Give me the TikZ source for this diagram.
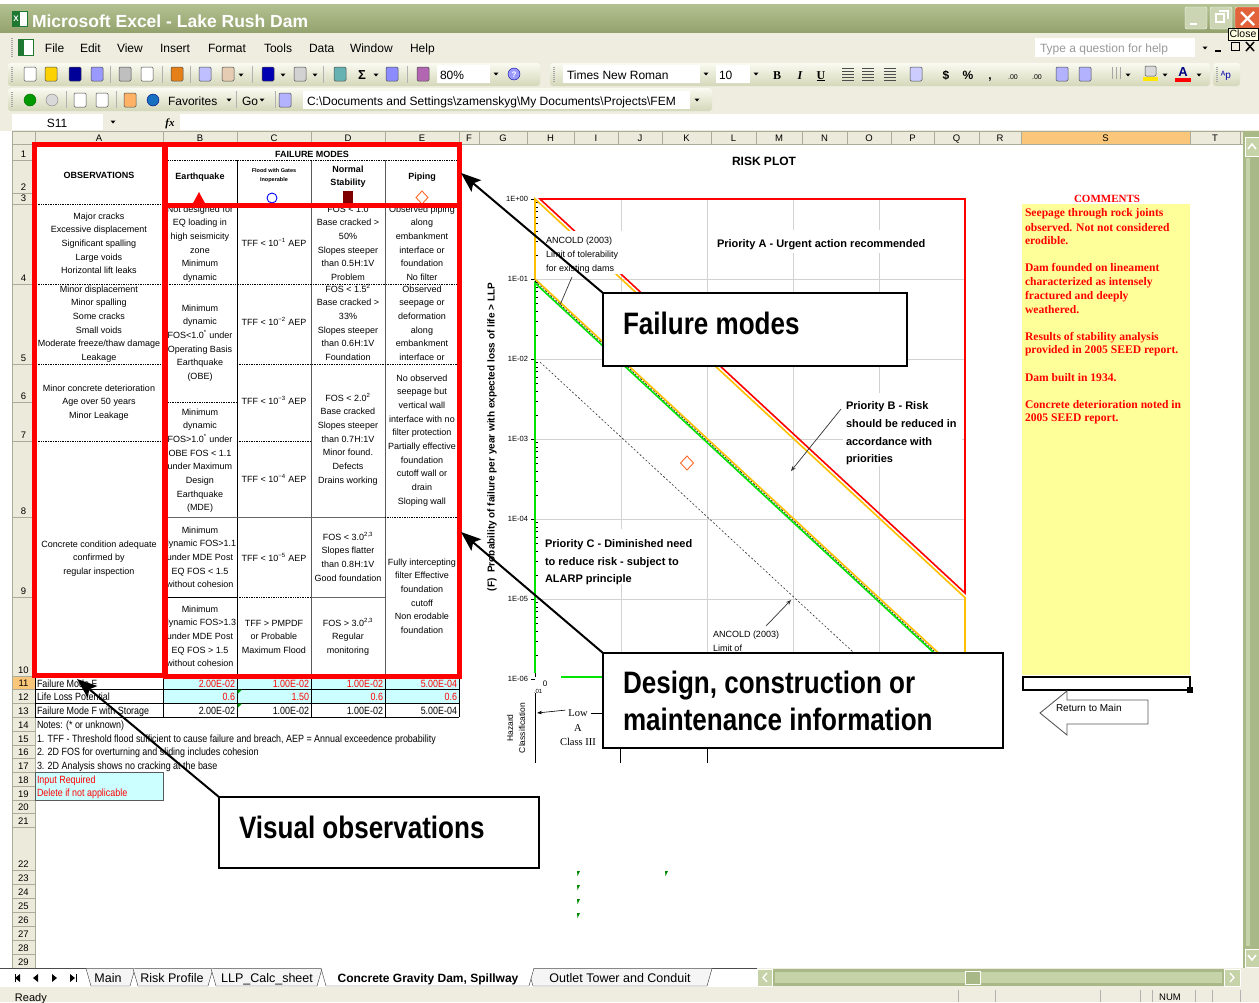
\documentclass[tikz,border=0pt]{standalone}
\usepackage{fontspec}
\setmainfont{Liberation Sans}
\newfontfamily\srf{Liberation Serif}
\newfontfamily\nrw[FakeStretch=0.85]{Liberation Sans}
\newfontfamily\clt[FakeStretch=0.84]{Liberation Sans}
\usetikzlibrary{arrows.meta}
\newcommand\fsz[1]{\fontsize{#1}{#1}\selectfont}
\newcommand\ddn[2]{\fill[black] ({#1-2.5},{#2-1.5}) -- ({#1+2.5},{#2-1.5}) -- ({#1},{#2+1.5}) -- cycle;}
\newcommand\cellL[4]{\foreach \t [count=\i] in {#4}{\node[tbl] (#3-\i) at (#1,{#2+(\i-1)*13.7}) {\t};}}
\definecolor{ttlA}{RGB}{180,193,146}
\definecolor{ttlB}{RGB}{146,162,108}
\definecolor{barbg}{RGB}{238,237,223}
\definecolor{tbA}{RGB}{250,250,242}
\definecolor{tbB}{RGB}{212,216,184}
\definecolor{hdr}{RGB}{236,234,218}
\definecolor{hdrline}{RGB}{172,170,152}
\definecolor{hdrsel}{RGB}{250,198,122}
\definecolor{cyanc}{RGB}{204,255,255}
\definecolor{yell}{RGB}{255,255,153}
\definecolor{xred}{RGB}{255,0,0}
\definecolor{xorange}{RGB}{255,192,0}
\definecolor{xgreen}{RGB}{0,228,0}
\definecolor{gridg}{RGB}{210,210,210}
\definecolor{scrl}{RGB}{168,184,134}
\definecolor{scrlL}{RGB}{198,210,168}
\definecolor{ttip}{RGB}{255,255,225}
\definecolor{dred}{RGB}{128,0,0}
\definecolor{dorange}{RGB}{255,105,40}
\definecolor{closec}{RGB}{226,98,58}
\definecolor{xlgreen}{RGB}{30,120,50}
\tikzset{
  every node/.style={inner sep=0pt,outer sep=0pt},
  tbl/.style={anchor=base,font=\fsz{9}},
  tblh/.style={anchor=base,font=\bfseries\fsz{9}},
  redbox/.style={draw=xred,line width=5pt},
  dotl/.style={line width=0.7pt,dash pattern=on 0.8pt off 0.9pt},
  celll/.style={line width=0.8pt},
  rowtxt/.style={anchor=base west,font=\nrw\fsz{10.5}},
  rowval/.style={anchor=base east,font=\nrw\fsz{10.5}},
  rownum/.style={anchor=base,font=\fsz{9.5}},
  colhd/.style={anchor=base,font=\fsz{9.5}},
  menuitem/.style={anchor=base west,font=\fsz{12}},
  tbtxt/.style={anchor=base west,font=\fsz{12}},
  prio/.style={anchor=base west,font=\bfseries\fsz{11}},
  smalllbl/.style={anchor=base west,font=\fsz{9}},
  ticklbl/.style={anchor=east,font=\fsz{7.5}},
  cbox/.style={draw=black,line width=2.6pt,fill=white,anchor=north west},
  cboxtxt/.style={anchor=base west,font=\clt\bfseries\fsz{31}},
  carrow/.style={line width=2pt,-{Stealth[length=20pt,width=15pt,inset=4pt]}},
  leader/.style={black!80,line width=0.7pt},
  leaderarr/.style={black!80,line width=0.7pt,-{Stealth[length=5pt,width=4pt]}},
  commenttxt/.style={anchor=base west,font=\srf\bfseries\fsz{11.6},text=xred},
  ico/.style={draw=gray!60!black,line width=0.5pt,rounded corners=1.2pt},
  sheettab/.style={anchor=base,font=\fsz{12.5}},
  plotline/.style={line width=1.6pt},
}
\begin{document}
\begin{tikzpicture}[x=1pt,y=-1pt]
\useasboundingbox (0,0) rectangle (1259,1002);
\fill[white] (0,0) rectangle (1259,1002);

% ---------------- title bar
\shade[top color=ttlA,bottom color=ttlB] (0,4) rectangle (1259,33);
\filldraw[fill=white,draw=xlgreen] (12,11) rectangle (27,26);
\fill[xlgreen] (12,11) rectangle (20,26);
\node[font=\bfseries\fsz{8},text=white] (xicon) at (16,18.5) {X};
\node[anchor=base west,font=\bfseries\fsz{17.5},text=white] (title) at (32,27.5) {Microsoft Excel - Lake Rush Dam};
\filldraw[fill=ttlA!70!white,draw=white,rounded corners=2] (1185,7) rectangle (1207,29);
\draw[white,line width=2] (1190,24) -- (1197,24);
\filldraw[fill=ttlA!70!white,draw=white,rounded corners=2] (1210,7) rectangle (1232,29);
\draw[white,line width=1.2] (1216,14) rectangle (1224,22);
\draw[white,line width=1.2] (1219,11) -- (1228,11) -- (1228,19);
\filldraw[fill=closec,draw=white,rounded corners=2] (1235,7) rectangle (1262,29);
\draw[white,line width=2.2] (1241,12) -- (1254,25) (1254,12) -- (1241,25);

% ---------------- menu bar
\fill[barbg] (0,33) rectangle (1259,62);
\draw[gray!70,line width=1.2,dash pattern=on 1pt off 1pt] (12,38) -- (12,57);
\filldraw[fill=white,draw=xlgreen] (18,39) rectangle (33,55);
\fill[xlgreen] (18,39) rectangle (24,55);
\node[menuitem] (mfile) at (45,52) {File};
\node[menuitem] (medit) at (80,52) {Edit};
\node[menuitem] (mview) at (117,52) {View};
\node[menuitem] (mins) at (160,52) {Insert};
\node[menuitem] (mfmt) at (208,52) {Format};
\node[menuitem] (mtools) at (264,52) {Tools};
\node[menuitem] (mdata) at (309,52) {Data};
\node[menuitem] (mwin) at (350,52) {Window};
\node[menuitem] (mhelp) at (410,52) {Help};
\fill[white] (1035,38) rectangle (1195,57);
\node[anchor=base west,font=\fsz{12},text=gray!80] (qhelp) at (1040,52) {Type a question for help};
\ddn{1205}{48}
\draw[line width=1.5] (1215,51) -- (1221,51);
\draw[line width=1] (1231,42) rectangle (1239,50);
\draw[line width=1.5] (1246,42) -- (1254,51) (1254,42) -- (1246,51);
\node[draw=black,fill=ttip,anchor=north west,font=\fsz{10.5},inner xsep=1.5,inner ysep=2] (tip) at (1228,28) {Close};

% ---------------- toolbar 1
\fill[barbg] (0,62) rectangle (1259,112);
\shade[top color=tbA,bottom color=tbB,rounded corners=3] (8,63) rectangle (540,86);
\shade[top color=tbA,bottom color=tbB,rounded corners=3] (550,63) rectangle (1210,86);
\shade[top color=tbA,bottom color=tbB,rounded corners=3] (1213,63) rectangle (1240,86);
\foreach \gx in {12,554,1217} \draw[gray!70,line width=1.2,dash pattern=on 1pt off 1pt] (\gx,67) -- (\gx,82);
\foreach \x/\c in {30/white,51/yellow!70!orange,75/blue!60!black,97/blue!40,125/gray!50,147/white,177/orange!60!brown,205/blue!25,228/brown!40,268/blue!70!black,300/gray!35,340/teal!60,392/blue!45,423/violet!60}
  \filldraw[ico,fill=\c] ({\x-6},67) rectangle ({\x+6},81);
\foreach \x in {110,162,190,252,323,407} \draw[gray!60] (\x,66) -- (\x,83);
\foreach \x in {241,283,315,376} {\ddn{\x}{75}}
\node[anchor=base,font=\bfseries\fsz{13}] (sigma) at (362,79) {Σ};
\fill[white] (437,65) rectangle (490,83);
\node[tbtxt] (zoomt) at (440,79) {80\%};
\ddn{496}{74}
\filldraw[draw=blue!60!black,fill=blue!40!white] (514,74) circle (6pt);
\node[font=\bfseries\fsz{8},text=white] (qm) at (514,74.5) {?};
\fill[white] (563,65) rectangle (700,83);
\node[tbtxt] (fontn) at (567,79) {Times New Roman};
\ddn{706}{74}
\fill[white] (716,65) rectangle (750,83);
\node[tbtxt] (fsize) at (719,79) {10};
\ddn{756}{74}
\node[anchor=base,font=\srf\bfseries\fsz{12}] (tbB) at (777,79) {B};
\node[anchor=base,font=\srf\bfseries\itshape\fsz{12}] (tbI) at (800,79) {I};
\node[anchor=base,font=\srf\bfseries\fsz{12}] (tbU) at (821,79) {\underline{U}};
\foreach \x in {848,868,890} {\foreach \yy in {68,71,74,77,80} \draw[black!70] ({\x-6},\yy) -- ({\x+6},\yy);}
\filldraw[ico,fill=blue!20] (910,67) rectangle (922,81);
\node[anchor=base,font=\bfseries\fsz{12}] (tbdol) at (946,79) {\$};
\node[anchor=base,font=\bfseries\fsz{12}] (tbpct) at (968,79) {\%};
\node[anchor=base,font=\bfseries\fsz{12}] (tbcom) at (990,79) {,};
\node[anchor=base,font=\fsz{7}] (tbinc) at (1013,79) {.00};
\node[anchor=base,font=\fsz{7}] (tbdec) at (1037,79) {.00};
\filldraw[ico,fill=blue!30] (1056,67) rectangle (1068,81);
\filldraw[ico,fill=blue!30] (1079,67) rectangle (1091,81);
\draw[gray!70] (1109,67) grid[step=4] (1121,79);
\ddn{1128}{75}
\fill[yellow!90!orange] (1143,77) rectangle (1158,81);
\filldraw[ico,fill=gray!30] (1145,66) rectangle (1156,76);
\ddn{1165}{75}
\node[anchor=base,font=\bfseries\fsz{13},text=blue!50!black] (tbA) at (1183,76) {A};
\fill[xred] (1175,78) rectangle (1191,82);
\ddn{1199}{75}
\node[anchor=base,font=\fsz{10},text=blue!70!black] (tbAp) at (1226,78) {ᴬp};

% ---------------- toolbar 2
\shade[top color=tbA,bottom color=tbB,rounded corners=3] (8,88) rectangle (712,111);
\draw[gray!70,line width=1.2,dash pattern=on 1pt off 1pt] (12,92) -- (12,107);
\filldraw[draw=green!40!black,fill=green!60!black] (30,100) circle (6pt);
\filldraw[draw=gray,fill=gray!30] (52,100) circle (6pt);
\foreach \x in {66,116,275} \draw[gray!60] (\x,91) -- (\x,108);
\filldraw[ico,fill=white] (74,93) rectangle (86,107);
\filldraw[ico,fill=white] (96,93) rectangle (108,107);
\filldraw[ico,fill=orange!60] (124,93) rectangle (136,107);
\filldraw[draw=blue!50!black,fill=cyan!50!blue] (153,100) circle (6pt);
\node[tbtxt] (fav) at (168,105) {Favorites};
\ddn{229}{100}
\draw[gray!60] (236,91) -- (236,108);
\node[tbtxt] (go) at (242,105) {Go};
\ddn{262}{100}
\filldraw[ico,fill=blue!30] (279,93) rectangle (291,107);
\fill[white] (303,91) rectangle (690,109);
\begin{scope}
\clip (303,91) rectangle (690,109);
\node[tbtxt] (path) at (307,105) {C:\textbackslash Documents and Settings\textbackslash zamenskyg\textbackslash My Documents\textbackslash Projects\textbackslash FEM};
\end{scope}
\ddn{697}{100}

% ---------------- formula bar
\fill[barbg] (0,112) rectangle (1259,131);
\fill[white] (12,114) rectangle (103,130);
\node[anchor=base,font=\fsz{12}] (namebox) at (57,127) {S11};
\ddn{113}{122}
\node[anchor=base,font=\srf\bfseries\itshape\fsz{11}] (fx) at (170,126) {fx};
\fill[white] (180,114) rectangle (1259,130);

% ---------------- column / row headers
\fill[hdr] (12,131) rectangle (1243,144);
\fill[hdrsel] (1021,131) rectangle (1190,144);
\fill[hdr] (12,144) rectangle (35,968);
\fill[hdrsel] (12,676) rectangle (35,689);
\draw[hdrline] (12,131) -- (1243,131);
\draw[hdrline] (12,144) -- (1243,144);
\draw[hdrline] (35,131) -- (35,968);
\draw[hdrline] (12,131) -- (12,968);
\foreach \l/\a/\b in {A/35/163,B/163/237,C/237/311,D/311/385,E/385/459,F/459/479,G/479/527,H/527/574,I/574/618,J/618/662,K/662/711,L/711/756,M/756/802,N/802/847,O/847/891,P/891/934,Q/934/979,R/979/1021,S/1021/1190,T/1190/1240}
{\draw[hdrline] (\b,131) -- (\b,144); \node[colhd] (col\l) at ({(\a+\b)/2},141.5) {\l};}
\foreach \n/\b in {1/160,2/193,3/204,4/284,5/364,6/402,7/441,8/517,9/597,10/676,11/689,12/703,13/717,14/731,15/745,16/758,17/772,18/786,19/800,20/813,21/827,22/870,23/884,24/898,25/912,26/926,27/940,28/954,29/968}
{\draw[hdrline] (12,\b) -- (35,\b); \node[rownum] (row\n) at (23.5,{\b-3}) {\n};}

% ---------------- table body
\fill[cyanc] (163,676) rectangle (459,703);
\fill[cyanc] (35,772) rectangle (163,800);
\draw[gray!70!black,line width=0.8] (35,772) rectangle (163,800);
\foreach \y in {689,703,717} \draw[celll] (35,\y) -- (459,\y);
\foreach \x in {35,163,237,311,385,459} \draw[celll] (\x,676) -- (\x,717);
\draw[celll] (237,160) -- (237,676);
\draw[celll,black!65] (311,160) -- (311,676);
\draw[celll,black!65] (385,160) -- (385,676);
\draw[dotl] (165,160) -- (459,160);
\draw[dotl] (36,204) -- (163,204);
\draw[dotl] (36,284) -- (459,284);
\draw[dotl] (36,364) -- (163,364);
\draw[dotl] (237,364) -- (459,364);
\draw[dotl] (163,402) -- (237,402);
\draw[dotl] (36,441) -- (163,441);
\draw[dotl] (237,441) -- (311,441);
\draw[celll,black!60] (163,517) -- (385,517);
\draw[dotl] (385,517) -- (459,517);
\draw[celll] (163,597) -- (237,597);
\draw[dotl] (237,597) -- (311,597);
\draw[celll,black!60] (311,597) -- (385,597);
\fill[green!60!black] (237.5,689.5) -- (242,689.5) -- (237.5,694) -- cycle;
\fill[green!60!black] (237.5,703.5) -- (242,703.5) -- (237.5,708) -- cycle;

% headers
\node[tblh] (fmodes) at (312,157) {FAILURE MODES};
\node[tblh] (obs) at (99,178) {OBSERVATIONS};
\node[tblh] (eq) at (200,179.5) {Earthquake};
\node[anchor=base,font=\bfseries\fsz{5.5}] (fl1) at (274,172) {Flood with Gates};
\node[anchor=base,font=\bfseries\fsz{5.5}] (fl2) at (274,181) {Inoperable};
\node[tblh] (ns1) at (348,172) {Normal};
\node[tblh] (ns2) at (348,185) {Stability};
\node[tblh] (pip) at (422,179.5) {Piping};
\fill[xred] (199,192) -- (206,205) -- (192,205) -- cycle;
\draw[blue,line width=0.9] (272,198) circle (5pt);
\fill[dred] (343,191) rectangle (353,205);
\draw[dorange,line width=0.9] (422,191) -- (428,197.5) -- (422,204) -- (416,197.5) -- cycle;

% column A
\cellL{99}{219}{a4}{{Major cracks},{Excessive displacement},{Significant spalling},{Large voids},{Horizontal lift leaks}}
\cellL{99}{292}{a5}{{Minor displacement},{Minor spalling},{Some cracks},{Small voids},{Moderate freeze/thaw damage},{Leakage}}
\cellL{99}{391}{a6}{{Minor concrete deterioration},{Age over 50 years},{Minor Leakage}}
\cellL{99}{547}{a8}{{Concrete condition adequate},{confirmed by},{regular inspection}}
% column B
\begin{scope}
\clip (166,206) rectangle (236.5,283.6);
\cellL{200}{212}{b4}{{Not designed for},{EQ loading in},{high seismicity},{zone},{Minimum},{dynamic}}
\end{scope}
\begin{scope}
\clip (166,284) rectangle (236.5,676);
\cellL{200}{311}{b5}{{Minimum},{dynamic},{FOS<1.0\textsuperscript{*} under},{Operating Basis},{Earthquake},{(OBE)}}
\cellL{200}{415}{b7}{{Minimum},{dynamic},{FOS>1.0\textsuperscript{*} under},{OBE FOS < 1.1},{under Maximum},{Design},{Earthquake},{(MDE)}}
\cellL{200}{533}{b9}{{Minimum},{dynamic FOS>1.1},{under MDE Post},{EQ FOS < 1.5},{without cohesion}}
\cellL{200}{612}{b10}{{Minimum},{dynamic FOS>1.3},{under MDE Post},{EQ FOS > 1.5},{without cohesion}}
\end{scope}
% column C
\node[tbl] (c4) at (274,246) {TFF < 10\textsuperscript{−1} AEP};
\node[tbl] (c5) at (274,325) {TFF < 10\textsuperscript{−2} AEP};
\node[tbl] (c6) at (274,404) {TFF < 10\textsuperscript{−3} AEP};
\node[tbl] (c8) at (274,482) {TFF < 10\textsuperscript{−4} AEP};
\node[tbl] (c9) at (274,561) {TFF < 10\textsuperscript{−5} AEP};
\cellL{274}{626}{c10}{{TFF > PMPDF},{or Probable},{Maximum Flood}}
% column D
\begin{scope}
\clip (311.5,206) rectangle (384.5,283.6);
\cellL{348}{212}{d4}{{FOS < 1.0},{Base cracked >},{50\%},{Slopes steeper},{than 0.5H:1V},{Problem}}
\end{scope}
\cellL{348}{292}{d5}{{FOS < 1.5\textsuperscript{2}},{Base cracked >},{33\%},{Slopes steeper},{than 0.6H:1V},{Foundation}}
\cellL{348}{401}{d6}{{FOS < 2.0\textsuperscript{2}},{Base cracked},{Slopes steeper},{than 0.7H:1V},{Minor found.},{Defects},{Drains working}}
\cellL{348}{540}{d9}{{FOS < 3.0\textsuperscript{2,3}},{Slopes flatter},{than 0.8H:1V},{Good foundation}}
\cellL{348}{626}{d10}{{FOS > 3.0\textsuperscript{2,3}},{Regular},{monitoring}}
% column E
\begin{scope}
\clip (385.5,206) rectangle (457,283.6);
\cellL{422}{212}{e4}{{Observed piping},{along},{embankment},{interface or},{foundation},{No filter}}
\end{scope}
\cellL{422}{292}{e5}{{Observed},{seepage or},{deformation},{along},{embankment},{interface or}}
\cellL{422}{381}{e6}{{No observed},{seepage but},{vertical wall},{interface with no},{filter protection},{Partially effective},{foundation},{cutoff wall or},{drain},{Sloping wall}}
\cellL{422}{565}{e9}{{Fully intercepting},{filter Effective},{foundation},{cutoff},{Non erodable},{foundation}}

% rows 11-19
\node[rowtxt] (r11a) at (37,687) {Failure Mode F};
\node[rowtxt] (r12a) at (37,700.5) {Life Loss Potential};
\node[rowtxt] (r13a) at (37,714) {Failure Mode F with Storage};
\foreach \x/\v [count=\i] in {235/2.00E-02,309/1.00E-02,383/1.00E-02,457/5.00E-04}
  \node[rowval,text=xred] (r11v\i) at (\x,687) {\v};
\foreach \x/\v [count=\i] in {235/0.6,309/1.50,383/0.6,457/0.6}
  \node[rowval,text=xred] (r12v\i) at (\x,700.5) {\v};
\foreach \x/\v [count=\i] in {235/2.00E-02,309/1.00E-02,383/1.00E-02,457/5.00E-04}
  \node[rowval] (r13v\i) at (\x,714) {\v};
\node[rowtxt] (r14) at (37,728) {Notes: (* or unknown)};
\node[rowtxt] (r15) at (37,742) {1. TFF - Threshold flood sufficient to cause failure and breach, AEP = Annual exceedence probability};
\node[rowtxt] (r16) at (37,755.5) {2. 2D FOS for overturning and sliding includes cohesion};
\node[rowtxt] (r17) at (37,769) {3. 2D Analysis shows no cracking at the base};
\node[rowtxt,text=xred] (r18) at (37,783) {Input Required};
\node[rowtxt,text=xred] (r19) at (37,796.5) {Delete if not applicable};

% red outline boxes
\draw[redbox] (34.5,144) rectangle (164,675.5);
\draw[redbox] (165.5,144) rectangle (459.5,205.5);
\draw[redbox] (165.5,205.5) rectangle (459.5,676);

% ---------------- risk plot
\node[anchor=base,font=\bfseries\fsz{12}] (riskplot) at (764,165) {RISK PLOT};
\foreach \x in {621,707,793,879} \draw[gridg,line width=0.9] (\x,199) -- (\x,677);
\foreach \y in {279,359,439,519,599} \draw[gridg,line width=0.9] (535,\y) -- (965,\y);
\draw[black,line width=0.6] (535,199) -- (535,677);
\foreach \y in {199,279,359,439,519,599,679} \draw[line width=0.6] (531,\y) -- (535,\y);
\foreach \d in {0,...,5} {\foreach \k in {2,...,9} {\draw[line width=0.5] (535,{199+80*(\d+1)-80*log10(\k)}) -- (538,{199+80*(\d+1)-80*log10(\k)});}}
\foreach \y/\t [count=\i] in {199/1E+00,279/1E-01,359/1E-02,439/1E-03,519/1E-04,599/1E-05,679/1E-06}
  \node[ticklbl] (yt\i) at (528,\y) {\t};
\draw[xorange,plotline] (535,279) -- (535,199) -- (965,597.6) -- (965,677);
\draw[xred,plotline] (965,593) -- (540,199) -- (965,199) -- cycle;
\draw[xorange,plotline] (535,279) -- (965,677.6);
\draw[xgreen,plotline] (535,673) -- (535,283) -- (960,677);
\draw[xgreen,plotline] (561,677) -- (612,677);
\draw[black,line width=0.5,dash pattern=on 2pt off 1.5pt] (535,281) -- (962,677);
\draw[black!80,line width=0.6,dash pattern=on 2pt off 2pt] (540,362) -- (880,677);
\node[rotate=90,font=\bfseries\fsz{10}] (ylab) at (492,437) {(F)\ \ Probability of failure per year with expected loss of life > LLP};
\node[anchor=base,font=\fsz{8}] (x0) at (545,686) {0};
\node[anchor=base,font=\fsz{6}] (x01) at (538,693) {.01};
% labels with white ground
\fill[white] (543,231) rectangle (623,274);
\node[smalllbl] (anc1a) at (546,243) {ANCOLD (2003)};
\node[smalllbl] (anc1b) at (546,257) {Limit of tolerability};
\node[smalllbl] (anc1c) at (546,271) {for existing dams};
\fill[white] (712,230) rectangle (926,253);
\node[prio] (pa) at (717,247) {Priority A - Urgent action recommended};
\fill[white] (843,393) rectangle (962,466);
\node[prio] (pb1) at (846,409) {Priority B - Risk};
\node[prio] (pb2) at (846,427) {should be reduced in};
\node[prio] (pb3) at (846,445) {accordance with};
\node[prio] (pb4) at (846,462) {priorities};
\fill[white] (542,529) rectangle (702,584);
\node[prio] (pc1) at (545,547) {Priority C - Diminished need};
\node[prio] (pc2) at (545,565) {to reduce risk - subject to};
\node[prio] (pc3) at (545,582) {ALARP principle};
\fill[white] (710,623) rectangle (790,651);
\node[smalllbl] (anc2a) at (713,637) {ANCOLD (2003)};
\node[smalllbl] (anc2b) at (713,651) {Limit of};
\coordinate (l1a) at (572,277); \coordinate (l1b) at (560,305);
\draw[leader] (l1a) -- (l1b);
\coordinate (l2a) at (841,409); \coordinate (l2b) at (791,471);
\draw[leaderarr] (l2a) -- (l2b);
\coordinate (l3a) at (766,626); \coordinate (l3b) at (791,600);
\draw[leaderarr] (l3a) -- (l3b);
\draw[dorange,line width=0.9] (687,456) -- (693.5,463) -- (687,470) -- (680.5,463) -- cycle;
% hazard classification
\draw[line width=0.7] (535,693) -- (535,763);
\draw[line width=0.7] (620,693) -- (620,763);
\draw[line width=0.7] (707,693) -- (707,763);
\node[rotate=90,font=\fsz{8.5}] (haz1) at (510,728) {Hazard};
\node[rotate=90,font=\fsz{8.5}] (haz2) at (522,728) {Classification};
\node[anchor=base,font=\srf\fsz{10.5}] (low) at (578,716.5) {Low};
\node[anchor=base,font=\srf\fsz{10.5}] (lowA) at (578,731) {A};
\node[anchor=base,font=\srf\fsz{10.5}] (lowC) at (578,745) {Class III};
\draw[line width=0.6,-{Stealth[length=5pt,width=3.5pt]}] (low.west) ++(-3,-3) -- (537,713);
\draw[line width=0.6] (591,713) -- (612,713);

% ---------------- comments
\node[anchor=base,font=\srf\bfseries\fsz{11},text=xred] (comh) at (1107,202) {COMMENTS};
\fill[yell] (1022,204) rectangle (1190,675);
\foreach \y/\t [count=\i] in {216/{Seepage through rock joints},231/{observed. Not not considered},244/{erodible.},271/{Dam founded on lineament},285/{characterized as intensely},299/{fractured and deeply},313/{weathered.},340/{Results of stability analysis},353/{provided in 2005 SEED report.},381/{Dam built in 1934.},408/{Concrete deterioration noted in},421/{2005 SEED report.}}
  \node[commenttxt] (com\i) at (1025,\y) {\t};
\draw[line width=2.2] (1023,677) rectangle (1190,690);
\fill (1187,687) rectangle (1193,693);
\draw[gray!70!black,line width=0.9,fill=white] (1040,713) -- (1067,691) -- (1067,700) -- (1148,700) -- (1148,724) -- (1067,724) -- (1067,735) -- cycle;
\node[anchor=base west,font=\fsz{10}] (ret) at (1056,711.5) {Return to Main};

% small green marks
\foreach \x/\y in {577/871,665/871,577/885,577/899,577/913}
  \fill[green!55!black] (\x,\y) -- ({\x+3},\y) -- ({\x+0.5},{\y+5}) -- cycle;

% ---------------- callouts
\node[cbox,minimum width=304,minimum height=73] (fm) at (603,293) {};
\node[cboxtxt] (fmt) at (623,334) {Failure modes};
\coordinate (fmtip) at (461,173);
\draw[carrow] (fm.north west) -- (fmtip);
\node[cbox,minimum width=400,minimum height=95] (dc) at (603,653) {};
\node[cboxtxt] (dct1) at (623,693) {Design, construction or};
\node[cboxtxt] (dct2) at (623,730) {maintenance information};
\coordinate (dctip) at (461,532);
\draw[carrow] (dc.north west) -- (dctip);
\node[cbox,minimum width=320,minimum height=71] (vo) at (219,797) {};
\node[cboxtxt] (vot) at (239,838) {Visual observations};
\coordinate (votip) at (77,679);
\draw[carrow] (vo.north west) -- (votip);

% ---------------- vertical scrollbar
\fill[scrl] (1243,131) rectangle (1259,968);
\fill[scrlL] (1246,158) rectangle (1250,946);
\filldraw[fill=scrlL,draw=white] (1245,137) rectangle (1259,156);
\draw[white,line width=1.5] (1248,149) -- (1252,144) -- (1256,149);
\filldraw[fill=scrlL,draw=white] (1245,949) rectangle (1259,967);
\draw[white,line width=1.5] (1248,955) -- (1252,960) -- (1256,955);

% ---------------- sheet tabs
\fill[barbg] (0,968) rectangle (1259,1002);
\fill[white] (0,968) rectangle (757,987);
\draw[black!70] (0,968.5) -- (757,968.5);
\foreach \x in {20,38} \fill (\x,974) -- (\x,982) -- ({\x-5},978) -- cycle;
\foreach \x in {52,70} \fill (\x,974) -- (\x,982) -- ({\x+5},978) -- cycle;
\draw[line width=1] (15,974) -- (15,982);
\draw[line width=1] (76,974) -- (76,982);
\draw[black!80,fill=gray!8] (86,968.5) -- (91,986) -- (130,986) -- (135,968.5);
\draw[black!80,fill=gray!8] (133,968.5) -- (138,986) -- (208,986) -- (213,968.5);
\draw[black!80,fill=gray!8] (211,968.5) -- (216,986) -- (317,986) -- (322,968.5);
\draw[black!80,fill=gray!8] (528,968.5) -- (533,986) -- (707,986) -- (712,968.5);
\draw[black!80,fill=white] (321,968) -- (326,986) -- (529,986) -- (534,968);
\node[sheettab] (tab1) at (108,982) {Main};
\node[sheettab] (tab2) at (172,982) {Risk Profile};
\node[sheettab] (tab3) at (267,982) {LLP\_Calc\_sheet};
\node[sheettab,font=\bfseries\fsz{12}] (tab4) at (428,982) {Concrete Gravity Dam, Spillway};
\node[sheettab] (tab5) at (620,982) {Outlet Tower and Conduit};
\fill[scrl] (757,969) rectangle (1240,986);
\fill[scrlL] (775,972) rectangle (1222,983);
\filldraw[fill=scrlL,draw=white] (757,969) rectangle (772,986);
\draw[white,line width=1.3] (767,973) -- (763,977.5) -- (767,982);
\filldraw[fill=scrlL,draw=white] (1224,969) rectangle (1240,986);
\draw[white,line width=1.3] (1230,973) -- (1234,977.5) -- (1230,982);
\filldraw[fill=scrl,draw=white] (965,971) rectangle (980,984);
\node[anchor=base west,font=\fsz{11}] (ready) at (15,1001) {Ready};
\foreach \x in {958,995,1100,1140,1152,1195,1212,1240} \draw[gray!60] (\x,990) -- (\x,1002);
\node[anchor=base,font=\fsz{9.5}] (num) at (1170,1000) {NUM};
\end{tikzpicture}
\end{document}
